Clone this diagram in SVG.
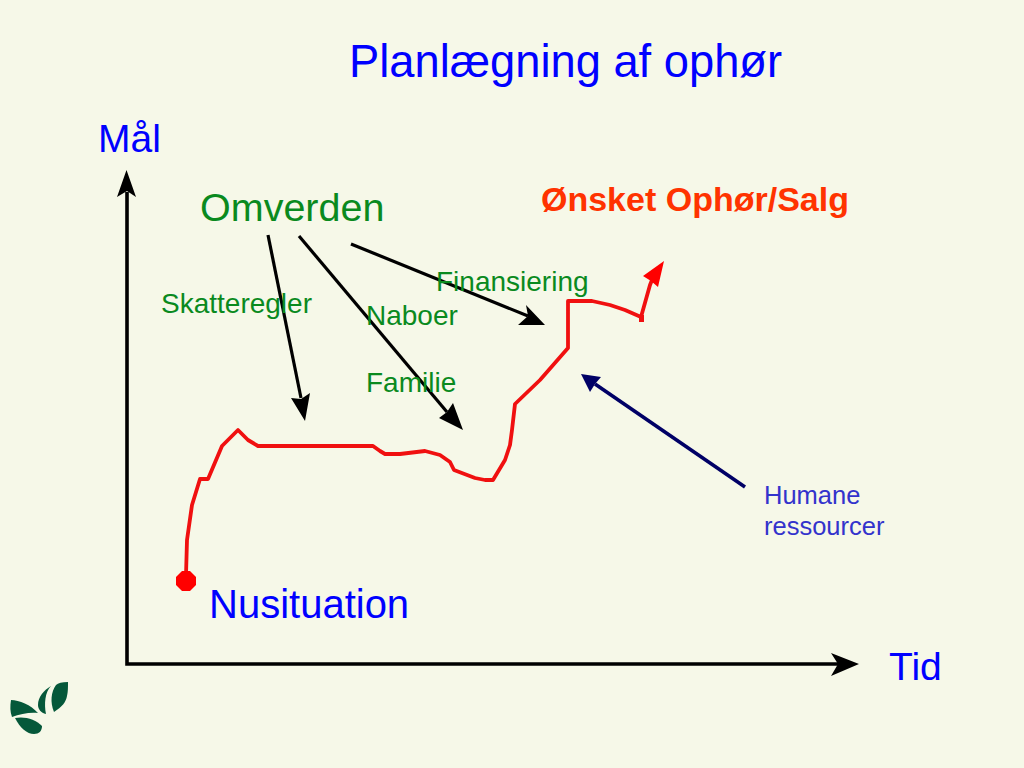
<svg xmlns="http://www.w3.org/2000/svg" width="1024" height="768" viewBox="0 0 1024 768">
<style>
text{font-family:"Liberation Sans",Arial,sans-serif}
.blue{fill:#0000ff}
.green{fill:#0a8a1e}
.ln{fill:none;stroke-linecap:butt}
.k{stroke:#000;stroke-width:3.2}
</style>
<rect width="1024" height="768" fill="#f6f8e8"/>
<g id="logo" fill="#05583a">
<path d="M11 700C19 700 31 705 38 713C30 712 20 714 12 717C10 712 10 706 11 700Z"/>
<path d="M15 718C24 716 36 719 42 726C42 731 39 734 34 734C27 734 20 728 15 718Z"/>
<path d="M51 686C45 692 44 704 46 714C41 713 38 709 38 705C38 697 44 690 51 686Z"/>
<path d="M68 682C62 682 58 683 56 685C51 692 50 702 54 712C62 707 66 702 67 696C68 692 68 687 68 682Z"/>
</g>
<g id="connectors">
<path class="ln" stroke="#000" stroke-width="3.6" d="M127 192V664H838"/>
<polygon points="126.500,170 136,197 127,191 117,197"/>
<polygon points="859,664 831,653 838,664 831,676"/>
<path class="ln k" d="M268 235L301 398"/>
<polygon points="305,421 291,398 301,399 310,393"/>
<path class="ln k" d="M299 236L447 412"/>
<polygon points="463,430 439,418 447,412 453,403"/>
<path class="ln k" d="M351 244L528 316"/>
<polygon points="545,325 518,325 528,316 526,305"/>
<path class="ln" stroke="#000066" stroke-width="3.6" d="M745 487L595 384"/>
<polygon fill="#000066" points="581,374 601,377 595,384 590,392"/>
</g>
<g id="curve">
<path class="ln" stroke="#f01010" stroke-width="3.8" stroke-linejoin="round" d="M186 575L187 540L192 505L200 479H208L222 446L238 430L248 440L258 446H373L380 451L385 454H400L425 451L440 455L450 462L454 470L475 478L485 480H493L505 460L510 445L512 430L515 404L540 380L568 348V301H592L610 305L625 310L641 317L650 285L652 280"/>
<polygon fill="#ff0000" points="664,261 658,287 651,281 643,276"/>
<rect x="639" y="315" width="5" height="7" fill="#f01010"/>
<polygon fill="#ff0000" points="182,571 190,571 196,577 196,585 190,591 182,591 176,585 176,577"/>
</g>
<g id="title"><text class="blue" x="349" y="77" font-size="45.3">Planlægning af ophør</text></g>
<g id="maal"><text class="blue" x="98" y="152" font-size="39">Mål</text></g>
<g id="tid"><text class="blue" x="889" y="680" font-size="39">Tid</text></g>
<g id="omverden"><text class="green" x="200" y="221" font-size="39.5">Omverden</text></g>
<g id="oensket"><text x="541" y="211" font-size="34" font-weight="bold" fill="#ff3300">Ønsket Ophør/Salg</text></g>
<g id="skatteregler"><text class="green" x="161" y="313" font-size="28">Skatteregler</text></g>
<g id="naboer"><text class="green" x="366" y="325" font-size="28">Naboer</text></g>
<g id="finansiering"><text class="green" x="436" y="291" font-size="28">Finansiering</text></g>
<g id="familie"><text class="green" x="366" y="392" font-size="28">Familie</text></g>
<g id="humane"><text fill="#3333cc" font-size="25.500"><tspan x="764" y="504">Humane</tspan><tspan x="764" y="535">ressourcer</tspan></text></g>
<g id="nusituation"><text class="blue" x="209" y="618" font-size="40">Nusituation</text></g>
</svg>
